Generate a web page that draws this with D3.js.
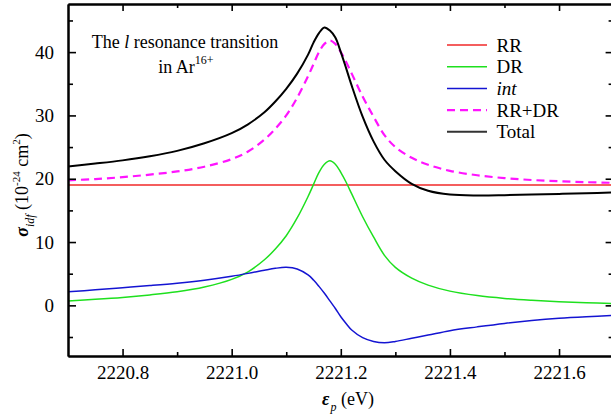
<!DOCTYPE html>
<html><head><meta charset="utf-8">
<script src="https://cdn.jsdelivr.net/npm/d3@7"></script>
<style>
html,body{margin:0;padding:0;background:#fff;}
svg{display:block;}
svg text{font-family:"Liberation Serif","Times New Roman",Times,Tinos,"Nimbus Roman","FreeSerif","Noto Serif","DejaVu Serif",serif;}
</style></head>
<body><svg id="c" width="611" height="418"></svg>
<script>
const energy = [2220.70,2220.75,2220.80,2220.85,2220.90,2220.95,2221.00,2221.03,2221.06,2221.08,2221.10,2221.12,2221.14,2221.15,2221.16,2221.17,2221.18,2221.19,2221.20,2221.21,2221.22,2221.24,2221.26,2221.28,2221.30,2221.33,2221.36,2221.40,2221.45,2221.50,2221.55,2221.60,2221.65,2221.70];
const rr = energy.map(() => 19.0);
const dr = [0.7,0.95,1.25,1.65,2.15,2.9,4.1,5.3,7.2,8.9,11.0,13.8,17.2,19.1,21.0,22.3,22.85,22.3,21.0,19.4,17.6,14.0,10.8,7.9,6.0,4.3,3.2,2.25,1.55,1.1,0.8,0.57,0.42,0.3];
const intf = [2.15,2.45,2.78,3.12,3.5,3.98,4.6,5.05,5.55,5.85,6.0,5.75,4.8,4.0,3.0,1.9,0.7,-0.5,-1.8,-2.9,-3.9,-5.1,-5.7,-5.9,-5.7,-5.2,-4.7,-4.0,-3.4,-2.85,-2.4,-2.05,-1.8,-1.6];
const rrdr = [19.75,19.95,20.25,20.65,21.15,21.9,23.1,24.3,26.2,27.9,30.0,32.8,36.2,38.1,40.0,41.3,41.85,41.3,40.0,38.4,36.6,33.0,29.8,26.9,25.0,23.3,22.2,21.25,20.55,20.1,19.8,19.6,19.45,19.35];
const total = [21.95,22.4,22.9,23.55,24.4,25.6,27.2,28.6,30.5,32.2,34.2,36.6,39.6,41.5,43.0,43.9,43.4,42.3,40.0,37.4,34.7,29.8,25.9,23.0,21.2,19.2,18.1,17.5,17.35,17.4,17.5,17.6,17.7,17.85];
const xMajor = [2220.8,2221.0,2221.2,2221.4,2221.6];
const xMinor = [2220.9,2221.1,2221.3,2221.5,2221.7];
const yMajor = [0,10,20,30,40];
const yMinor = [-5,5,15,25,35,45];

const FONT = '"Liberation Serif","Times New Roman",Times,Tinos,"Nimbus Roman","FreeSerif","Noto Serif","DejaVu Serif",serif';
const L=68, R=613.6, T=4, B=356;
const x = d3.scaleLinear().domain([2220.7,2221.7]).range([L,R]);
const y = d3.scaleLinear().domain([-8,47.6]).range([B,T]);
const svg = d3.select("#c");

const series = [
  {name:"RR", vals:rr, color:"#f02828", w:1.5, dash:null},
  {name:"DR", vals:dr, color:"#1ee01e", w:1.5, dash:null},
  {name:"int", vals:intf, color:"#1414d2", w:1.5, dash:null, italic:true},
  {name:"RR+DR", vals:rrdr, color:"#ff14ff", w:2.2, dash:"8,5"},
  {name:"Total", vals:total, color:"#000000", w:2, dash:null}
];

svg.append("defs").append("clipPath").attr("id","pc").append("rect")
  .attr("x",L).attr("y",T).attr("width",R-L).attr("height",B-T);

const line = d3.line().x(d=>x(d[0])).y(d=>y(d[1])).curve(d3.curveCatmullRom.alpha(0.5));
const g = svg.append("g").attr("clip-path","url(#pc)");
series.forEach(s=>{
  g.append("path").datum(energy.map((e,i)=>[e,s.vals[i]]))
    .attr("d",line).attr("fill","none").attr("stroke",s.color)
    .attr("stroke-width",s.w).attr("stroke-dasharray",s.dash);
});

const axB = d3.axisBottom(x).tickValues(xMajor).tickSizeInner(-7).tickSizeOuter(0).tickPadding(10).tickFormat(d3.format(".1f"));
const axBm = d3.axisBottom(x).tickValues(xMinor).tickSizeInner(-4).tickSizeOuter(0).tickFormat("");
const axT = d3.axisTop(x).tickValues(xMajor).tickSizeInner(-7).tickSizeOuter(0).tickFormat("");
const axTm = d3.axisTop(x).tickValues(xMinor).tickSizeInner(-4).tickSizeOuter(0).tickFormat("");
const axL = d3.axisLeft(y).tickValues(yMajor).tickSizeInner(-8).tickSizeOuter(0).tickPadding(14);
const axLm = d3.axisLeft(y).tickValues(yMinor).tickSizeInner(-5).tickSizeOuter(0).tickFormat("");
const axR = d3.axisRight(y).tickValues(yMajor).tickSizeInner(-8).tickSizeOuter(0).tickFormat("");
const axRm = d3.axisRight(y).tickValues(yMinor).tickSizeInner(-5).tickSizeOuter(0).tickFormat("");

function put(ax, tr){
  const a = svg.append("g").attr("transform",tr).call(ax).attr("font-family",FONT);
  a.selectAll("path.domain").attr("stroke","#000").attr("stroke-width",2);
  a.selectAll(".tick line").attr("stroke","#000").attr("stroke-width",1.6);
  a.selectAll(".tick text").attr("fill","#000").attr("font-size",19).attr("font-family",FONT);
  return a;
}
put(axB,`translate(0,${B})`); put(axBm,`translate(0,${B})`);
put(axT,`translate(0,${T})`); put(axTm,`translate(0,${T})`);
put(axL,`translate(${L},0)`); put(axLm,`translate(${L},0)`);
put(axR,`translate(${R},0)`); put(axRm,`translate(${R},0)`);

const xt = svg.append("text").attr("x",348).attr("y",405).attr("text-anchor","middle").attr("font-size",18);
xt.append("tspan").text("ε").style("font-style","italic").style("font-weight","bold");
xt.append("tspan").text("p").style("font-style","italic").attr("font-size",12).attr("dy",6).attr("dx",1);
xt.append("tspan").text(" (eV)").attr("dy",-6);

const yt = svg.append("text").attr("transform","translate(28,185) rotate(-90)").attr("text-anchor","middle").attr("font-size",18);
yt.append("tspan").text("σ").style("font-style","italic").style("font-weight","bold");
yt.append("tspan").text("idf").style("font-style","italic").attr("font-size",12).attr("dy",6);
yt.append("tspan").text(" (10").attr("dy",-6);
yt.append("tspan").text("-24").attr("font-size",11).attr("dy",-8);
yt.append("tspan").text(" cm").attr("dy",8);
yt.append("tspan").text("2").attr("font-size",11).attr("dy",-8);
yt.append("tspan").text(")").attr("dy",8);

const a1 = svg.append("text").attr("x",185).attr("y",47.5).attr("text-anchor","middle").attr("font-size",18);
a1.append("tspan").text("The ");
a1.append("tspan").text("l").style("font-style","italic");
a1.append("tspan").text(" resonance transition");
const a2 = svg.append("text").attr("x",186).attr("y",73.3).attr("text-anchor","middle").attr("font-size",18);
a2.append("tspan").text("in Ar");
a2.append("tspan").text("16+").attr("font-size",12).attr("dy",-9);

const lg = svg.append("g");
series.forEach((s,i)=>{
  const yy = 45 + i*21.7;
  lg.append("line").attr("x1",447).attr("x2",487).attr("y1",yy).attr("y2",yy)
    .attr("stroke",s.name==="Total"?"#333":s.color).attr("stroke-width",s.w).attr("stroke-dasharray",s.dash);
  lg.append("text").attr("x",496.5).attr("y",yy+6.5).text(s.name)
    .attr("font-size",19).style("font-style",s.italic?"italic":"normal");
});
</script></body></html>
